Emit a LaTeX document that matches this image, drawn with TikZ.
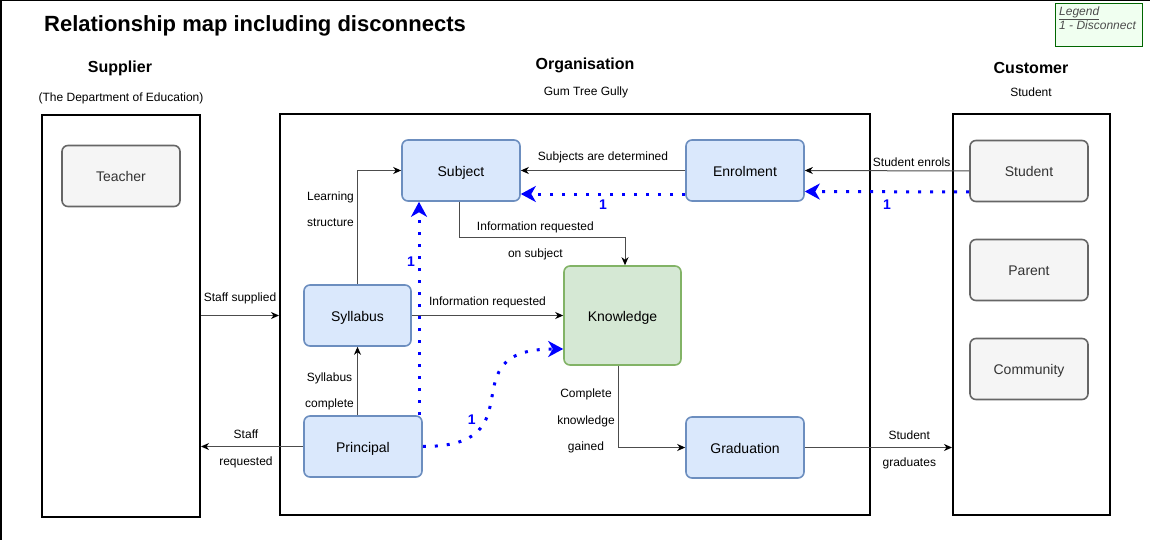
\documentclass[tikz,border=0pt]{standalone}
\usepackage{fontspec}
\setmainfont{Liberation Sans}
\usetikzlibrary{arrows.meta,positioning}

\definecolor{procFill}{HTML}{DAE8FC}
\definecolor{procLine}{HTML}{6C8EBF}
\definecolor{knoFill}{HTML}{D5E8D4}
\definecolor{knoLine}{HTML}{82B366}
\definecolor{actFill}{HTML}{F5F5F5}
\definecolor{actLine}{HTML}{666666}
\definecolor{actText}{HTML}{333333}
\definecolor{gapBlue}{HTML}{0000FF}
\definecolor{legFill}{HTML}{F0FFF0}
\definecolor{legLine}{HTML}{006600}
\definecolor{legText}{HTML}{4D4D4D}

\begin{document}
\begin{tikzpicture}
[x=1pt, y=-1pt, >={Stealth[length=8pt,width=7pt,inset=2.5pt,black]},
font=\fontsize{12}{26.5}\selectfont,
every node/.style={inner sep=0pt},
proc/.style={draw=procLine, fill=procFill, line width=1.6pt, rounded corners=6pt,
  minimum width=118pt, minimum height=61pt, text height=13pt, text depth=2pt,
  font=\fontsize{14}{16}\selectfont},
actor/.style={proc, draw=actLine, fill=actFill, text=actText},
know/.style={proc, draw=knoLine, fill=knoFill, minimum width=117pt, minimum height=99pt},
group/.style 2 args={draw, line width=2pt, minimum width=#1, minimum height=#2},
head/.style={font=\bfseries\fontsize{16}{18}\selectfont},
link/.style={->, draw=black!70, line width=1pt},
gap/.style={-{Stealth[length=15pt,width=16pt,inset=4.5pt]}, draw=gapBlue, line width=3pt,
  dash pattern=on 3pt off 9pt},
gapnum/.style={text=gapBlue, font=\bfseries\fontsize{14}{16}\selectfont},
lbl/.style={align=center}
]
  \useasboundingbox (0,0) rectangle (1150,540);
  \draw[line width=1.5pt] (0.75,540) -- (0.75,0.75) -- (1150,0.75);

  % titles
  \node[font=\bfseries\fontsize{22}{26}\selectfont] (title) at (255,26) {Relationship map including disconnects};
  \node[head] (supT) at (120,68) {Supplier};
  \node (supS) at (121,98) {(The Department of Education)};
  \node[head] (orgT) at (585,65) {Organisation};
  \node (orgS) at (586,92) {Gum Tree Gully};
  \node[head] (cusT) at (1031,68) {Customer};
  \node (cusS) at (1031,92) {Student};

  % legend
  \node[draw=legLine, fill=legFill, line width=1pt, minimum width=87pt, minimum height=43pt] (leg) at (1099,25) {};
  \node[anchor=north west, align=left, text=legText, font=\itshape\fontsize{12}{14}\selectfont]
    (legT) at (1059,6.5) {\underline{Legend}\\1 - Disconnect};

  % groups
  \node[group={158pt}{402pt}] (sup) at (121,316) {};
  \node[group={590pt}{401pt}] (org) at (575,314.5) {};
  \node[group={157pt}{401pt}] (cus) at (1031.5,314.5) {};

  % boxes
  \node[actor] (tea) at (121,176) {Teacher};
  \node[actor] (stu) at (1029,171) {Student};
  \node[actor] (par) at (1029,270) {Parent};
  \node[actor] (com) at (1029,369) {Community};
  \node[proc] (sub) at (461,170.5) {Subject};
  \node[proc] (enr) at (745,170.5) {Enrolment};
  \node[proc, minimum width=107pt] (syl) at (357.5,315.5) {Syllabus};
  \node[know] (kno) at (622.5,315.5) {Knowledge};
  \node[proc] (pri) at (363,446.5) {Principal};
  \node[proc] (gra) at (745,447.5) {Graduation};

  % relationships
  \draw[link] (stu.west) -- node[pos=0.35, yshift=9pt] (lEnrols) {Student enrols} (enr.east);
  \draw[link] (enr.west) -- node[midway, yshift=13pt] (lDeterm) {Subjects are determined} (sub.east);
  \draw[link] (syl.north) |- node[pos=0.33, xshift=-27pt, lbl] (lLearn) {Learning\\structure} (sub.west);
  \draw[link] ([xshift=-2pt]sub.south) |- node[pos=0.73, yshift=-3.5pt, lbl] (lInfoSub) {Information requested\\on subject}
    ([xshift=2.5pt,yshift=28pt]kno.north) -- ([xshift=2.5pt]kno.north);
  \draw[link] (syl.east) -- node[midway, yshift=13pt] (lInfo) {Information requested} (kno.west |- syl);
  \draw[link] (sup.east |- syl) -- node[midway, yshift=17pt] (lSupplied) {Staff supplied} (org.west |- syl);
  \draw[link] (syl.south |- pri.north) -- node[pos=0.35, xshift=-28pt, lbl] (lSylDone) {Syllabus\\complete} (syl.south);
  \draw[link] (pri.west) -- node[pos=0.56, yshift=-2.5pt, lbl] (lStaffReq) {Staff\\requested} (sup.east |- pri);
  \draw[link] ([xshift=-4.5pt]kno.south) |- node[pos=0.34, xshift=-32pt, lbl] (lGained) {Complete\\knowledge\\gained} (gra.west);
  \draw[link] (gra.east) -- node[pos=0.71, yshift=-2.5pt, lbl] (lGrad) {Student\\graduates} (cus.west |- gra);

  % disconnects
  \draw[gap] ([yshift=-21pt]stu.west) -- node[midway, yshift=-13pt, gapnum] (d1) {1} ([yshift=-21pt]enr.east);
  \draw[gap] ([yshift=-23.5pt]enr.west) -- node[midway, yshift=-11pt, gapnum] (d2) {1} ([yshift=-23.5pt]sub.east);
  \draw[gap] ([xshift=56pt]pri.north) -- node[pos=0.72, xshift=-8pt, gapnum] (d3) {1} ([xshift=-42pt]sub.south);
  \draw[gap] (pri.east) .. controls +(118,0) and +(-118,0) .. node[pos=0.3, xshift=-11pt, yshift=6pt, gapnum] (d4) {1}
    ([yshift=-33.5pt]kno.west);
\end{tikzpicture}
\end{document}
